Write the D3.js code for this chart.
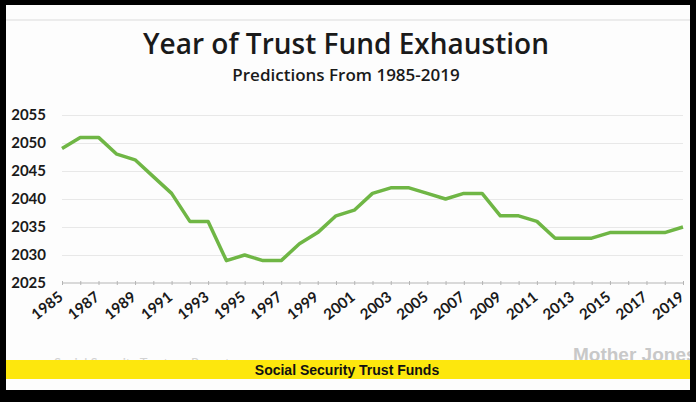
<!DOCTYPE html>
<html>
<head>
<meta charset="utf-8">
<script src="https://cdn.jsdelivr.net/npm/d3@7"></script>
<style>
  body { margin: 0; background: #000; }
  svg { display: block; }
</style>
</head>
<body>
<div id="chart"></div>
<script>
// Data
var years = [1985, 1986, 1987, 1988, 1989, 1990, 1991, 1992, 1993, 1994,
             1995, 1996, 1997, 1998, 1999, 2000, 2001, 2002, 2003, 2004,
             2005, 2006, 2007, 2008, 2009, 2010, 2011, 2012, 2013, 2014,
             2015, 2016, 2017, 2018, 2019];
var exhaustion = [2049, 2051, 2051, 2048, 2047, 2044, 2041, 2036, 2036, 2029,
                  2030, 2029, 2029, 2032, 2034, 2037, 2038, 2041, 2042, 2042,
                  2041, 2040, 2041, 2041, 2037, 2037, 2036, 2033, 2033, 2033,
                  2034, 2034, 2034, 2034, 2035];
var xTickLabels = [1985, 1987, 1989, 1991, 1993, 1995, 1997, 1999, 2001, 2003,
                   2005, 2007, 2009, 2011, 2013, 2015, 2017, 2019];
var yTickLabels = [2025, 2030, 2035, 2040, 2045, 2050, 2055];

var data = years.map((y, i) => ({ year: y, value: exhaustion[i] }));

var svg = d3.select("#chart").append("svg")
    .attr("width", 696)
    .attr("height", 402);

// Black frame and white card
svg.append("rect").attr("width", 696).attr("height", 402).attr("fill", "#000");
svg.append("rect")
    .attr("x", 6).attr("y", 5)
    .attr("width", 684).attr("height", 385)
    .attr("fill", "#fdfdfd");
svg.append("line")
    .attr("x1", 6).attr("x2", 690)
    .attr("y1", 20).attr("y2", 20)
    .attr("stroke", "#ececec").attr("stroke-width", 2);

// Titles
svg.append("text")
    .attr("x", 346).attr("y", 54)
    .attr("text-anchor", "middle")
    .style("font-family", "'Open Sans', sans-serif")
    .style("font-weight", 600)
    .style("font-size", "28px")
    .style("fill", "#1a1a1a")
    .text("Year of Trust Fund Exhaustion");

svg.append("text")
    .attr("x", 346).attr("y", 81)
    .attr("text-anchor", "middle")
    .style("font-family", "'Open Sans', sans-serif")
    .style("font-weight", 600)
    .style("font-size", "17px")
    .style("fill", "#1a1a1a")
    .text("Predictions From 1985-2019");

// Scales
var xScale = d3.scaleLinear()
    .domain([1985, 2019])
    .range([62, 683]);

var yScale = d3.scaleLinear()
    .domain([2025, 2055])
    .range([283, 115]);

// Gridlines
svg.append("g")
    .attr("transform", "translate(62,0)")
    .call(d3.axisLeft(yScale).tickValues(yTickLabels.slice(1)).tickSize(-(683 - 62)).tickFormat(""))
    .call(g => g.select(".domain").remove())
    .call(g => g.selectAll("line").attr("stroke", "#e8e8e8"));

// Y axis labels
svg.append("g")
    .attr("transform", "translate(62,0)")
    .call(d3.axisLeft(yScale).tickValues(yTickLabels).tickSize(0).tickPadding(16).tickFormat(d3.format("d")))
    .call(g => g.select(".domain").remove())
    .call(g => g.selectAll("text")
        .style("font-family", "Lato, sans-serif")
        .style("font-weight", 700)
        .style("font-size", "15px")
        .style("fill", "#1a1a1a"));

// X axis: line with a small mark every year
svg.append("g")
    .attr("transform", "translate(0,283)")
    .call(d3.axisBottom(xScale).tickValues(years).tickSize(3).tickFormat(""))
    .call(g => g.select(".domain").attr("d", "M62,0H683").attr("stroke", "#b5b5b5"))
    .call(g => g.selectAll(".tick line").attr("y1", -2).attr("y2", 2).attr("stroke", "#b5b5b5"));

// X labels, rotated
svg.append("g")
    .selectAll("text")
    .data(xTickLabels)
    .enter().append("text")
    .attr("transform", d => "translate(" + (xScale(d) + 2) + ",299) rotate(-38)")
    .attr("text-anchor", "end")
    .style("font-family", "Lato, sans-serif")
    .style("font-weight", 700)
    .style("font-size", "15px")
    .style("fill", "#1a1a1a")
    .text(d => d);

// Line
var line = d3.line()
    .x(d => xScale(d.year))
    .y(d => yScale(d.value));

svg.append("path")
    .datum(data)
    .attr("d", line)
    .attr("fill", "none")
    .attr("stroke", "#6fb645")
    .attr("stroke-width", 3.5)
    .attr("stroke-linejoin", "round");

// Faint source line and watermark, clipped at the banner top
svg.append("clipPath").attr("id", "above-banner")
    .append("rect").attr("x", 6).attr("y", 330).attr("width", 684).attr("height", 30);

svg.append("text")
    .attr("clip-path", "url(#above-banner)")
    .attr("x", 54).attr("y", 368)
    .style("font-family", "Lato, sans-serif")
    .style("font-size", "13px")
    .style("fill", "#d2d2d2")
    .text("Social Security Trustees Reports");

svg.append("text")
    .attr("clip-path", "url(#above-banner)")
    .attr("x", 573).attr("y", 361)
    .style("font-family", "'Liberation Sans', Arial, sans-serif")
    .style("font-weight", 700)
    .style("font-size", "19px")
    .style("fill", "#c8c8c8")
    .text("Mother Jones");

// Yellow banner
svg.append("rect")
    .attr("x", 6).attr("y", 360)
    .attr("width", 684).attr("height", 19)
    .attr("fill", "#fde70d");

svg.append("text")
    .attr("x", 347).attr("y", 375)
    .attr("text-anchor", "middle")
    .style("font-family", "'Liberation Sans', Arial, sans-serif")
    .style("font-weight", 700)
    .style("font-size", "14px")
    .style("fill", "#111")
    .text("Social Security Trust Funds");
</script>
</body>
</html>
